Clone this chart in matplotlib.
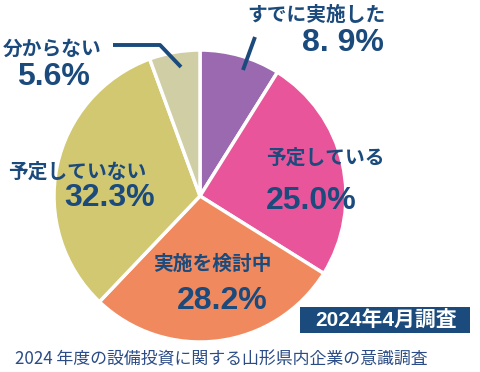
import matplotlib
matplotlib.use("Agg")
import matplotlib.pyplot as plt
from matplotlib.patches import Rectangle

plt.rcParams['font.family'] = ['Noto Sans CJK JP', 'DejaVu Sans']

categories = ["すでに実施した", "予定している", "実施を検討中", "予定していない", "分からない"]
values = [8.9, 25.0, 28.2, 32.3, 5.6]
value_labels = ["8. 9%", "25.0%", "28.2%", "32.3%", "5.6%"]
colors = ["#9A69AF", "#E8559A", "#F08A5E", "#D1C871", "#CFCEA5"]
badge_text = "2024年4月調査"
footer_text = "2024 年度の設備投資に関する山形県内企業の意識調査"

W, H = 480, 372
navy = "#1B4A7C"
num_family = ['Liberation Sans', 'Noto Sans CJK JP']

fig = plt.figure(figsize=(W / 100, H / 100), dpi=100)
ax = fig.add_axes([0, 0, 1, 1])

def Y(y):
    return H - y

ax.pie(values, colors=colors, startangle=90, counterclock=False,
       center=(200, Y(196)), radius=146, frame=True,
       wedgeprops=dict(edgecolor="white", linewidth=2.5))
ax.set_xlim(0, W)
ax.set_ylim(0, H)
ax.set_aspect("auto")
ax.axis("off")

# category labels (pixel positions from top-left)
cat_pos = [(316, 15), (325, 158), (212, 264), (77, 172), (52, 49)]
val_pos = [(343, 43), (311, 201), (222, 301), (110, 198), (53, 77)]
for name, (x, y) in zip(categories, cat_pos):
    ax.text(x, Y(y), name, ha="center", va="center", fontsize=14.2,
            fontweight="bold", color=navy)
for lab, (x, y) in zip(value_labels, val_pos):
    ax.text(x, Y(y), lab, ha="center", va="center", fontsize=23,
            fontweight="bold", color=navy, family=num_family)

# leader lines
ax.plot([113, 160, 181], [Y(45), Y(45), Y(67)], color=navy, lw=2.8,
        solid_capstyle="butt")
ax.plot([255, 243], [Y(37), Y(70)], color=navy, lw=2.8, solid_capstyle="butt")

# badge
ax.add_patch(Rectangle((300, Y(333)), 170, 26, facecolor="#1B4A7C",
                       edgecolor="none"))
ax.text(386, Y(320), badge_text, ha="center", va="center", fontsize=15,
        fontweight="bold", color="white", family=num_family)

# footer
ax.text(15, Y(359), footer_text, ha="left", va="center", fontsize=12.2,
        color="#2B4C86")

fig.savefig("out.png", dpi=100)
